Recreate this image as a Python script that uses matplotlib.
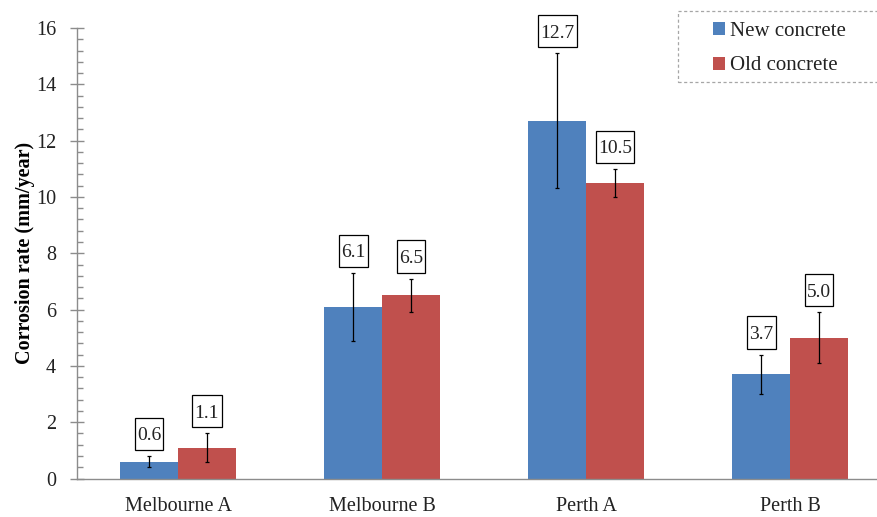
import numpy as np
import matplotlib.pyplot as plt
from matplotlib.patches import Rectangle
from matplotlib.path import Path
from matplotlib.ticker import MultipleLocator

sites = ['Melbourne A', 'Melbourne B', 'Perth A', 'Perth B']
new_rate = [0.6, 6.1, 12.7, 3.7]
old_rate = [1.1, 6.5, 10.5, 5.0]
new_err = [0.2, 1.2, 2.4, 0.7]
old_err = [0.5, 0.6, 0.5, 0.9]

blue = '#4F81BD'
red = '#C0504D'
axis_grey = '#8C8C8C'
text_col = '#222222'

plt.rcParams['font.family'] = ['Liberation Serif', 'DejaVu Serif']

W, H = 877, 517
fig = plt.figure(figsize=(W / 100, H / 100), dpi=100)
ax = fig.add_axes([77 / W, 38.5 / H, 1 - 77 / W, 450.5 / H])

x = np.arange(len(sites))
w = 0.284
err_kw = dict(ecolor='black', elinewidth=0.9, capsize=1.6, capthick=0.9)
ax.bar(x - w / 2, new_rate, w, color=blue, yerr=new_err, error_kw=err_kw, label='New concrete')
ax.bar(x + w / 2, old_rate, w, color=red, yerr=old_err, error_kw=err_kw, label='Old concrete')


def tall_box(x0, y0, width, height, mutation_size):
    # label box: little side padding, more above and below
    px = 0.12 * mutation_size
    pb, pt = 0.3 * mutation_size, 0.48 * mutation_size
    pts = [(x0 - px, y0 - pb), (x0 + width + px, y0 - pb), (x0 + width + px, y0 + height + pt),
           (x0 - px, y0 + height + pt), (x0 - px, y0 - pb)]
    return Path(pts, closed=True)


box = dict(boxstyle=tall_box, fc='white', ec='black', lw=0.9)
for xs, vals, errs in [(x - w / 2, new_rate, new_err), (x + w / 2, old_rate, old_err)]:
    for xi, v, e in zip(xs, vals, errs):
        ax.annotate(f'{v:.1f}', (xi, v + e), xytext=(0, 8.5), textcoords='offset points',
                    ha='center', va='bottom', fontsize=14, color=text_col, bbox=box)

ax.set_xlim(-0.495, 3.426)
ax.set_ylim(0, 16)
ax.set_xticks(x)
ax.set_xticklabels(sites, fontsize=14.5, color=text_col)
ax.yaxis.set_major_locator(MultipleLocator(2))
ax.yaxis.set_minor_locator(MultipleLocator(0.4))
ax.tick_params(axis='y', labelsize=14.5, colors=axis_grey, direction='inout',
               length=10, width=1, pad=10)
ax.tick_params(axis='y', which='minor', direction='in', length=4, width=1, colors=axis_grey)
ax.tick_params(axis='x', length=0, pad=13.5)
for t in ax.get_yticklabels():
    t.set_color(text_col)
ax.set_ylabel('Corrosion rate (mm/year)', fontsize=14.5, fontweight='bold', color='black')
ax.yaxis.set_label_coords(-0.0525, 0.5)

for s in ['top', 'right']:
    ax.spines[s].set_visible(False)
for s in ['left', 'bottom']:
    ax.spines[s].set_color(axis_grey)
    ax.spines[s].set_linewidth(1)

# legend with a dashed frame running off the right edge
frame = Rectangle((678 / W, 1 - 82 / H), 210 / W, 71 / H, transform=fig.transFigure,
                  fill=False, ec='#A6A6A6', lw=0.9, ls=(0, (2.5, 2)), clip_on=False)
fig.patches.append(frame)
leg = ax.legend(loc='upper left', bbox_to_anchor=(713 / W, 1 - 22 / H), bbox_transform=fig.transFigure,
                fontsize=15, frameon=False, handlelength=0.58, handleheight=0.58,
                handletextpad=0.25, borderpad=0, labelspacing=0.74, borderaxespad=0)
for t in leg.get_texts():
    t.set_color(text_col)

fig.savefig('out.png', dpi=100)
